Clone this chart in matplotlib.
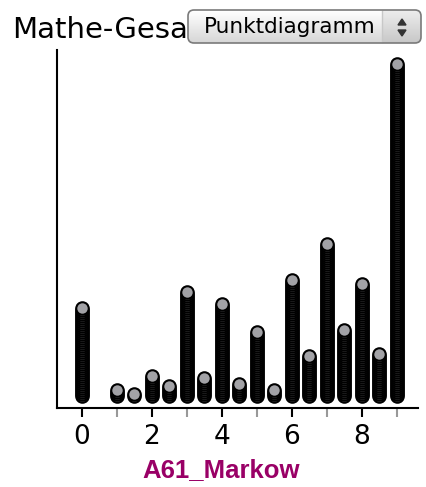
import numpy as np
import matplotlib
matplotlib.use("Agg")
import matplotlib.pyplot as plt
from matplotlib.patches import FancyBboxPatch, Polygon

# bins (A61_Markow) and number of stacked dots per bin
bins = [0, 1, 1.5, 2, 2.5, 3, 3.5, 4, 4.5, 5, 5.5, 6, 6.5, 7, 7.5, 8, 8.5, 9]
counts = [45, 4, 2, 11, 6, 53, 10, 47, 7, 33, 4, 59, 21, 77, 34, 57, 22, 167]
major_ticks = [0, 2, 4, 6, 8]
minor_ticks = [1, 3, 5, 7, 9]

plt.rcParams['font.family'] = ['DejaVu Sans']

fig = plt.figure(figsize=(4.27, 4.87), dpi=100)
W, H = 427, 487
ax = fig.add_axes([57 / W, (H - 408) / H, (418 - 57) / W, (408 - 50) / H])

xs = []
ys = []
for b, c in zip(bins, counts):
    for i in range(c):
        xs.append(b)
        ys.append(i)
ax.scatter(xs, ys, s=9 ** 2, facecolor='#a2a2a6', edgecolor='black',
           linewidths=1.5, zorder=3, clip_on=False)

ax.set_xlim(-0.7, 9.61)
ax.set_ylim(-6, 173)
for s in ['top', 'right']:
    ax.spines[s].set_visible(False)
for s in ['left', 'bottom']:
    ax.spines[s].set_linewidth(1.5)
ax.set_yticks([])
ax.set_xticks(major_ticks)
ax.set_xticks(minor_ticks, minor=True)
ax.tick_params(axis='x', which='major', length=6.5, width=1.5, color='black',
               labelsize=19, pad=5)
ax.tick_params(axis='x', which='minor', length=6.5, width=1.5, color='#999999')
ax.set_xlabel('A61_Markow', fontsize=18.5, fontweight='bold', color='#990066',
              family='Liberation Sans')
ax.xaxis.set_label_coords((221 - 57) / 361, -(458 - 408) / 358)

# title, partly hidden behind the drop-down
fig.text(12 / W, 1 - 38 / H, 'Mathe-Gesa', fontsize=21, color='black',
         ha='left', va='baseline')

# drop-down widget
dd = fig.add_axes([187 / W, (H - 44) / H, (422 - 187) / W, 35 / H])
dd.set_xlim(0, 235)
dd.set_ylim(0, 35)
dd.axis('off')
grad = np.linspace(1.0, 0.84, 50).reshape(-1, 1)
box = FancyBboxPatch((1, 1), 233, 33, boxstyle='round,pad=0,rounding_size=6',
                     facecolor='none', edgecolor='#7a7a7a', linewidth=1.2,
                     zorder=5)
dd.add_patch(box)
im = dd.imshow(grad, cmap='gray', vmin=0, vmax=1, extent=[1, 234, 1, 34],
               aspect='auto', origin='upper', zorder=1)
im.set_clip_path(box)
side = dd.imshow(grad * 0.93, cmap='gray', vmin=0, vmax=1,
                 extent=[195, 234, 1, 34], aspect='auto', origin='upper',
                 zorder=2)
side.set_clip_path(box)
dd.plot([195, 195], [2, 33], color='#c8c8c8', lw=1, zorder=3)
dd.add_patch(Polygon([[211, 19], [219, 19], [215, 25]], closed=True,
                     color='#333333', zorder=4))
dd.add_patch(Polygon([[211, 14], [219, 14], [215, 8]], closed=True,
                     color='#333333', zorder=4))
dd.text(17, 17, 'Punktdiagramm', fontsize=15.5, color='black',
        ha='left', va='center', zorder=4)

fig.savefig('out.png', dpi=100)
